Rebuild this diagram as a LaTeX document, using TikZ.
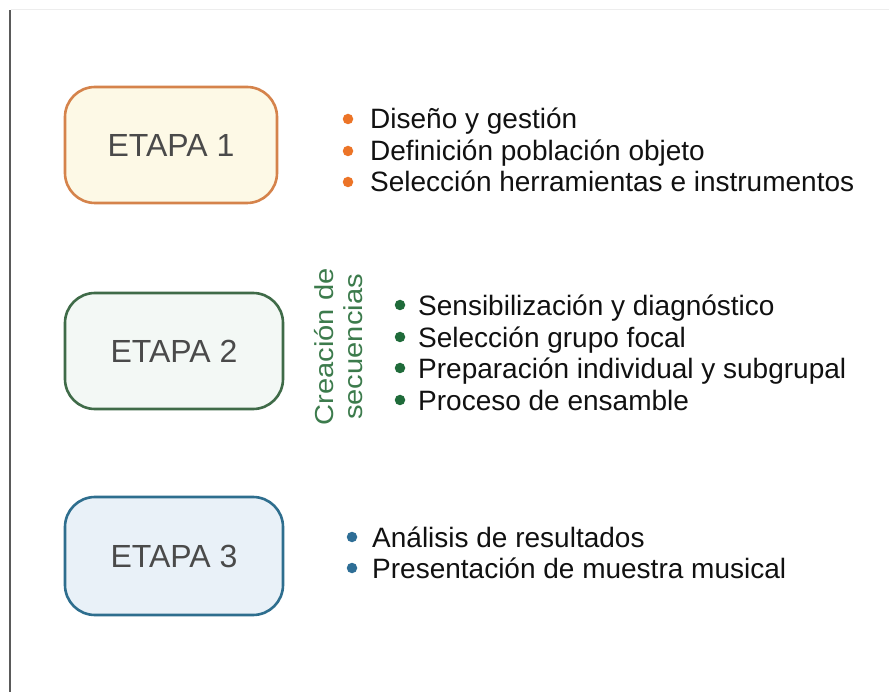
\documentclass[tikz,border=0pt]{standalone}
\usepackage{fontspec}
\setmainfont{Liberation Sans}
\usepackage{graphicx}
\definecolor{frameV}{HTML}{5A5A5A}
\definecolor{frameH}{HTML}{EDEDED}
\definecolor{oneB}{HTML}{D5834B}
\definecolor{oneF}{HTML}{FDF9E6}
\definecolor{oneD}{HTML}{EC7427}
\definecolor{twoB}{HTML}{3F6B48}
\definecolor{twoF}{HTML}{F3F8F5}
\definecolor{twoD}{HTML}{1F6B3A}
\definecolor{twoT}{HTML}{3C7B4C}
\definecolor{thrB}{HTML}{2E6E8E}
\definecolor{thrF}{HTML}{E9F1F8}
\definecolor{thrD}{HTML}{2E6E96}
\definecolor{etapaT}{HTML}{4A4A4A}
\definecolor{itemT}{HTML}{111111}
\begin{document}
\begin{tikzpicture}[x=1pt,y=-1pt,
  stagebox/.style={draw, line width=2.6pt, rounded corners=30pt, text=etapaT,
    font=\fontsize{32}{36}\selectfont, inner sep=0pt},
  itemtxt/.style={anchor=base west, inner sep=0pt, text=itemT,
    font=\fontsize{28}{32}\selectfont},
  dotmark/.style={circle, inner sep=0pt, minimum size=10.5pt}]
\useasboundingbox (0,0) rectangle (889,692);
\fill[white] (0,0) rectangle (889,692);
\coordinate (ht0) at (11,10);
\coordinate (ht1) at (889,10);
\coordinate (vt0) at (10,10);
\coordinate (vt1) at (10,692);
\draw[frameH, line width=1pt] (ht0) -- (ht1);
\draw[frameV, line width=1.6pt] (vt0) -- (vt1);

% Stage boxes
\node[stagebox, color=oneB, fill=oneF, text=etapaT, minimum width=212pt, minimum height=116pt] (s1) at (171,145) {ETAPA 1};
\node[stagebox, color=twoB, fill=twoF, text=etapaT, minimum width=218pt, minimum height=116pt] (s2) at (174,351) {ETAPA 2};
\node[stagebox, color=thrB, fill=thrF, text=etapaT, minimum width=218pt, minimum height=118pt] (s3) at (174,556) {ETAPA 3};

% Stage 1 items
\node[dotmark, fill=oneD] (d11) at (348,119) {};
\node[dotmark, fill=oneD] (d12) at (348,151) {};
\node[dotmark, fill=oneD] (d13) at (348,182) {};
\node[itemtxt] (t11) at (370,129) {Diseño y gestión};
\node[itemtxt] (t12) at (370,160.5) {Definición población objeto};
\node[itemtxt] (t13) at (370,192) {Selección herramientas e instrumentos};

% Stage 2 vertical label
\node[rotate=90, text=twoT, inner sep=0pt, align=center,
  font=\fontsize{26}{29}\selectfont] (v2) at (339,347)
  {\scalebox{1.12}[1]{Creación de}\\\scalebox{1.12}[1]{secuencias}};

% Stage 2 items
\node[dotmark, fill=twoD] (d21) at (400,305) {};
\node[dotmark, fill=twoD] (d22) at (400,337) {};
\node[dotmark, fill=twoD] (d23) at (400,368) {};
\node[dotmark, fill=twoD] (d24) at (400,400) {};
\node[itemtxt] (t21) at (418,316) {Sensibilización y diagnóstico};
\node[itemtxt] (t22) at (418,347.5) {Selección grupo focal};
\node[itemtxt] (t23) at (418,379) {Preparación individual y subgrupal};
\node[itemtxt] (t24) at (418,410.5) {Proceso de ensamble};

% Stage 3 items
\node[dotmark, fill=thrD] (d31) at (352,537) {};
\node[dotmark, fill=thrD] (d32) at (352,568) {};
\node[itemtxt] (t31) at (372,547) {Análisis de resultados};
\node[itemtxt] (t32) at (372,578.5) {Presentación de muestra musical};
\end{tikzpicture}
\end{document}
